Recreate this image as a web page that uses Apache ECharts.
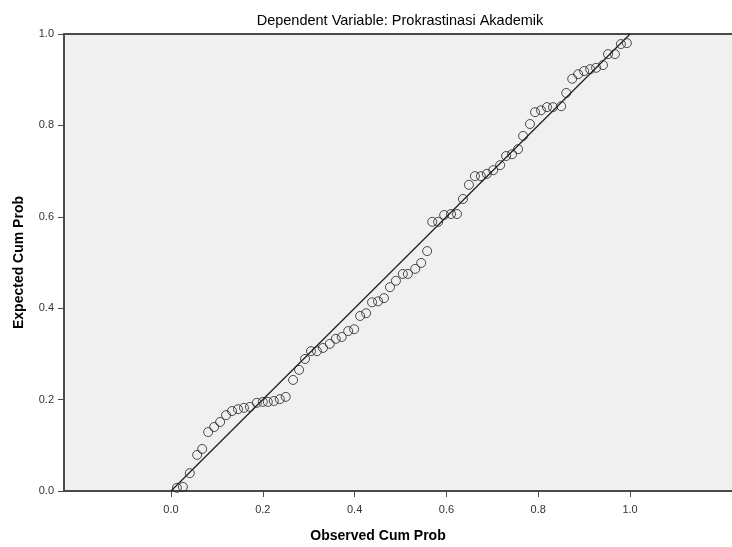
<!DOCTYPE html>
<html>
<head>
<meta charset="utf-8">
<script src="https://cdn.jsdelivr.net/npm/echarts@6/dist/echarts.min.js"></script>
<style>html,body{margin:0;padding:0;background:#fff}#c{width:732px;height:547px}</style>
</head>
<body>
<div id="c"></div>
<script>
const titleText = 'Dependent Variable: Prokrastinasi Akademik';
const xName = 'Observed Cum Prob';
const yName = 'Expected Cum Prob';
const tickValues = [0, 0.2, 0.4, 0.6, 0.8, 1.0];
const observed = [0.013,0.026,0.041,0.057,0.068,0.081,0.094,0.107,0.120,0.133,0.146,0.159,0.172,0.187,0.200,0.211,0.224,0.237,0.250,0.266,0.279,0.292,0.305,0.318,0.331,0.346,0.359,0.372,0.386,0.399,0.412,0.425,0.438,0.451,0.464,0.477,0.490,0.505,0.516,0.532,0.545,0.558,0.569,0.582,0.595,0.610,0.623,0.636,0.649,0.662,0.675,0.688,0.702,0.717,0.730,0.743,0.756,0.767,0.782,0.793,0.806,0.819,0.832,0.850,0.861,0.874,0.887,0.900,0.913,0.926,0.941,0.952,0.967,0.980,0.993];
const expected = [0.007,0.009,0.039,0.079,0.092,0.129,0.140,0.151,0.166,0.175,0.179,0.182,0.184,0.193,0.195,0.195,0.197,0.201,0.206,0.243,0.265,0.289,0.306,0.306,0.313,0.322,0.333,0.337,0.350,0.354,0.383,0.389,0.413,0.415,0.422,0.446,0.460,0.475,0.475,0.486,0.499,0.525,0.589,0.589,0.604,0.606,0.606,0.639,0.670,0.689,0.689,0.694,0.702,0.713,0.733,0.737,0.748,0.777,0.803,0.829,0.833,0.840,0.840,0.842,0.871,0.902,0.912,0.919,0.923,0.926,0.932,0.956,0.956,0.978,0.980];
const refLine = [[0,0],[1,1]];

const chart = echarts.init(document.getElementById('c'), null, {renderer:'canvas'});
const fmt = v => v.toFixed(1);
const lineCol = '#4a4a4a';
chart.setOption({
  animation:false,
  backgroundColor:'#ffffff',
  title:{text:titleText,left:395,top:8,textAlign:'center',
    textStyle:{fontFamily:'Liberation Sans',fontSize:14.5,fontWeight:'normal',color:'#000'}},
  grid:{left:64,top:34,right:0,bottom:56,show:true,backgroundColor:'#f0f0f0',borderWidth:0,
    containLabel:false,outerBoundsMode:'none'},
  xAxis:[{type:'value',min:-0.233,max:1.222,position:'bottom',
    name:xName,nameLocation:'middle',nameGap:38,
    nameTextStyle:{fontFamily:'Liberation Sans',fontSize:14,fontWeight:'bold',color:'#000',padding:[0,40,0,0]},
    axisLine:{show:true,onZero:false,lineStyle:{color:lineCol,width:2}},
    axisTick:{show:true,length:6,customValues:tickValues,lineStyle:{color:lineCol,width:1}},
    axisLabel:{customValues:tickValues,formatter:fmt,margin:13,fontFamily:'Liberation Sans',fontSize:11,color:'#333'},
    splitLine:{show:false}},
   {type:'value',min:-0.233,max:1.222,position:'top',
    axisLine:{show:true,onZero:false,lineStyle:{color:lineCol,width:2}},
    axisTick:{show:false},axisLabel:{show:false},splitLine:{show:false}}],
  yAxis:{type:'value',min:0,max:1,interval:0.2,
    name:yName,nameLocation:'middle',nameGap:38,nameRotate:90,
    nameTextStyle:{fontFamily:'Liberation Sans',fontSize:14,fontWeight:'bold',color:'#000'},
    axisLine:{show:true,onZero:false,lineStyle:{color:lineCol,width:2}},
    axisTick:{show:true,length:6,lineStyle:{color:lineCol,width:1}},
    axisLabel:{formatter:fmt,margin:10,fontFamily:'Liberation Sans',fontSize:11,color:'#333'},
    splitLine:{show:false}},
  series:[
    {type:'line',data:refLine,symbol:'none',lineStyle:{color:'#222',width:1.3},silent:true,z:2},
    {type:'scatter',data:observed.map((v,i)=>[v,expected[i]]),symbol:'circle',symbolSize:9,
      itemStyle:{color:'rgba(0,0,0,0)',borderColor:'#222',borderWidth:1},z:3}
  ]
});
</script>
</body>
</html>
